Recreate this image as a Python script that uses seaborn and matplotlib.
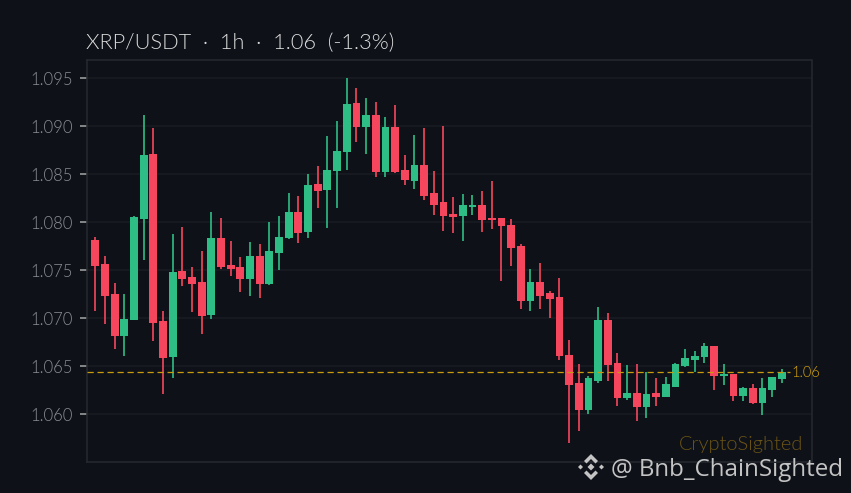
import numpy as np
import matplotlib
matplotlib.use("Agg")
import matplotlib.pyplot as plt
from matplotlib import font_manager as fm
from matplotlib.patches import Polygon
import seaborn as sns

opens = [1.07816,1.07566,1.07253,1.06819,1.06985,1.08038,1.08712,1.06972,1.06600,1.07493,1.07430,1.07378,1.07038,1.07837,1.07555,1.07534,1.07409,1.07649,1.07360,1.07684,1.07837,1.08107,1.07899,1.08399,1.08337,1.08535,1.08732,1.09243,1.08993,1.09118,1.08524,1.08993,1.08545,1.08430,1.08597,1.08305,1.08211,1.08086,1.08066,1.08159,1.08180,1.08045,1.08045,1.07972,1.07753,1.07180,1.07378,1.07264,1.07222,1.06618,1.06326,1.06045,1.06347,1.06982,1.06534,1.06170,1.06222,1.06076,1.06222,1.06180,1.06284,1.06503,1.06566,1.06597,1.06712,1.06399,1.06420,1.06191,1.06274,1.06118,1.06253,1.06368]
closes = [1.07548,1.07235,1.06819,1.06993,1.08055,1.08701,1.06954,1.06590,1.07482,1.07409,1.07360,1.07027,1.07837,1.07538,1.07514,1.07409,1.07649,1.07360,1.07701,1.07847,1.08107,1.07889,1.08389,1.08326,1.08545,1.08743,1.09232,1.08993,1.09118,1.08524,1.08993,1.08524,1.08441,1.08597,1.08274,1.08180,1.08066,1.08055,1.08180,1.08180,1.08024,1.08024,1.07962,1.07733,1.07180,1.07378,1.07232,1.07201,1.06611,1.06305,1.06045,1.06379,1.06982,1.06514,1.06170,1.06222,1.06076,1.06212,1.06180,1.06316,1.06524,1.06587,1.06607,1.06712,1.06399,1.06420,1.06191,1.06274,1.06118,1.06274,1.06389,1.06441]
highs = [1.07844,1.07649,1.07365,1.07253,1.08069,1.09118,1.08982,1.07076,1.07878,1.07951,1.07538,1.07705,1.08104,1.08045,1.07805,1.07639,1.07795,1.07777,1.08000,1.08066,1.08306,1.08274,1.08500,1.08586,1.08899,1.09055,1.09500,1.09399,1.09295,1.09253,1.09097,1.09222,1.08701,1.08909,1.08982,1.08535,1.09003,1.08264,1.08295,1.08285,1.08326,1.08430,1.08045,1.08034,1.07774,1.07514,1.07576,1.07284,1.07420,1.06775,1.06524,1.06399,1.07118,1.07055,1.06639,1.06514,1.06524,1.06441,1.06379,1.06389,1.06534,1.06680,1.06660,1.06743,1.06712,1.06524,1.06420,1.06284,1.06316,1.06379,1.06389,1.06472]
lows = [1.07079,1.06941,1.06680,1.06610,1.06985,1.07607,1.06763,1.06212,1.06381,1.07336,1.07066,1.06836,1.06996,1.07517,1.07441,1.07274,1.07232,1.07211,1.07347,1.07503,1.07826,1.07784,1.07837,1.08149,1.07941,1.08149,1.08545,1.08836,1.08711,1.08472,1.08472,1.08514,1.08389,1.08347,1.08232,1.08076,1.07909,1.07889,1.07805,1.08076,1.07899,1.07930,1.07389,1.07545,1.07097,1.07076,1.07097,1.07003,1.06566,1.05701,1.05826,1.06003,1.06326,1.06347,1.06087,1.06149,1.05930,1.05961,1.06087,1.06180,1.06284,1.06493,1.06441,1.06534,1.06253,1.06305,1.06139,1.06139,1.06108,1.05993,1.06180,1.06326]
last_price = 1.06436
y_ticks = [1.060, 1.065, 1.070, 1.075, 1.080, 1.085, 1.090, 1.095]
title = "XRP/USDT  ·  1h  ·  1.06  (-1.3%)"

BG = "#0e1118"; GRID = "#191c23"; EDGE = "#26292f"
UP = "#2ebd85"; DOWN = "#f6465d"; GOLD = "#c99a0e"; TICK = "#8b8e93"

sns.set_theme(style="dark", rc={"axes.facecolor": BG, "figure.facecolor": BG})
plt.rcParams["font.family"] = ["Lato", "DejaVu Sans"]

light = [f.fname for f in fm.fontManager.ttflist
         if f.name == "Lato" and f.fname.endswith("Lato-Light.ttf")]
def font(size):
    if light:
        return fm.FontProperties(fname=light[0], size=size)
    return fm.FontProperties(family="Lato", size=size)

W, H = 851, 493
fig = plt.figure(figsize=(W/100, H/100), dpi=100, facecolor=BG)
L, R, T, B = 86.5, 811.5, 60.0, 461.5
ax = fig.add_axes([L/W, 1-B/H, (R-L)/W, (B-T)/H], facecolor=BG)

o, c, h, l = map(np.array, (opens, closes, highs, lows))
idx = np.arange(len(o))
up = c >= o
ax.set_axisbelow(True)
ax.grid(True, axis="y", color=GRID, lw=1.1)
ax.grid(False, axis="x")

ax.vlines(idx[up], l[up], h[up], color=UP, lw=1.2, zorder=2)
ax.vlines(idx[~up], l[~up], h[~up], color=DOWN, lw=1.2, zorder=2)
for mask, col in ((up, UP), (~up, DOWN)):
    sns.barplot(x=idx[mask], y=np.abs(c-o)[mask], bottom=np.minimum(o, c)[mask],
                native_scale=True, width=0.8, color=col, saturation=1,
                errorbar=None, ax=ax, zorder=3, linewidth=0)

ax.set_xlim(-0.91, 74.07)
ax.hlines(last_price, -0.91, 71.85, color=GOLD, lw=0.9, ls=(0, (5, 3)), zorder=4)
ax.set_ylim(1.05508, 1.09691)
ax.set_xticks([])
ax.set_yticks(y_ticks)
ax.set_yticklabels([f"{v:.3f}" for v in y_ticks], fontproperties=font(12))
ax.tick_params(axis="y", length=5, width=1.2, color="#9a9a9a", labelcolor=TICK, pad=5, left=True)
ax.set_xlabel(""); ax.set_ylabel("")
for s in ax.spines.values():
    s.set_visible(True); s.set_color(EDGE); s.set_linewidth(1.1)

def px(x, y):
    return x/W, 1-y/H

fig.text(*px(86, 49), title, color="#dcdcdc", fontproperties=font(15.7), ha="left", va="baseline")
fig.text(*px(791, 377), "1.06", color="#d9a610", fontproperties=font(10.5), ha="left", va="baseline")
fig.text(*px(803, 450), "CryptoSighted", color="#6b5415", fontproperties=font(14.4), ha="right", va="baseline")
fig.text(*px(611, 476), "@ Bnb_ChainSighted", color="#c4c4c4", fontsize=17.4, ha="left",
         va="baseline", family=["Open Sans", "DejaVu Sans"])

cx, cy, col = 591, 467, "#c4c4c4"
def poly(pts):
    fig.add_artist(Polygon([px(cx+a, cy+b) for a, b in pts], closed=True, transform=fig.transFigure,
                           facecolor=col, edgecolor="none"))
poly([(0,-3.5),(3.5,0),(0,3.5),(-3.5,0)])
poly([(-10.5,-2.5),(-8,0),(-10.5,2.5),(-13,0)])
poly([(10.5,-2.5),(13,0),(10.5,2.5),(8,0)])
poly([(0,-13),(7,-6),(4.5,-3.5),(0,-8),(-4.5,-3.5),(-7,-6)])
poly([(0,13),(7,6),(4.5,3.5),(0,8),(-4.5,3.5),(-7,6)])

fig.savefig("out.png", dpi=100, facecolor=BG)
